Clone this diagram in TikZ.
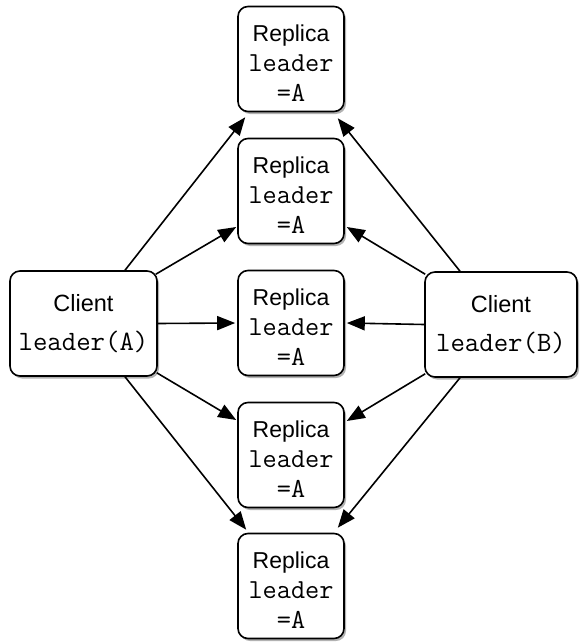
\documentclass[tikz,border=0pt]{standalone}
\usepackage{fontspec}
\setmainfont{Liberation Sans}
\usetikzlibrary{shadows,arrows.meta}

\newcommand{\monotext}{\ttfamily\fontsize{27.5}{30}\selectfont}
\newcommand{\monoclient}{\ttfamily\fontsize{28}{39}\selectfont}

\begin{document}
\begin{tikzpicture}[x=1pt,y=-1pt,
  box/.style={draw, line width=1.6pt, rounded corners=10pt, fill=white,
    align=center, inner sep=0pt,
    drop shadow={shadow xshift=2pt, shadow yshift=-2.5pt, opacity=0.3, fill=black}},
  replica/.style={box, minimum width=106pt, minimum height=105pt,
    font=\fontsize{23}{30}\selectfont},
  client/.style={box, minimum width=147pt, minimum height=105pt,
    font=\fontsize{23.5}{39}\selectfont},
  link/.style={line width=1.6pt, -{Triangle[length=18pt,width=14pt]}}]

\useasboundingbox (0,0) rectangle (579,642);

% clients
\node[client] (ca) at (83.5,323.5) {Client\\{\monoclient leader(A)}};
\node[client, minimum width=152pt] (cb) at (501,324.5) {Client\\{\monoclient leader(B)}};

% replicas (the strut on the first line lowers the text block a little)
\node[replica] (r1) at (291,59)  {\rule{0pt}{24pt}Replica\\{\monotext leader}\\{\monotext =A}};
\node[replica] (r2) at (291,191) {\rule{0pt}{24pt}Replica\\{\monotext leader}\\{\monotext =A}};
\node[replica] (r3) at (291,323) {\rule{0pt}{24pt}Replica\\{\monotext leader}\\{\monotext =A}};
\node[replica] (r4) at (291,455) {\rule{0pt}{24pt}Replica\\{\monotext leader}\\{\monotext =A}};
\node[replica] (r5) at (291,586) {\rule{0pt}{24pt}Replica\\{\monotext leader}\\{\monotext =A}};

% client A broadcasts
\draw[link] ([xshift=41.5pt]ca.north) -- ([xshift=8pt,yshift=-5pt]r1.south west);
\draw[link] ([xshift=-2pt,yshift=-4pt]ca.north east) -- ([xshift=-1pt,yshift=-36pt]r2.west);
\draw[link] (ca.east) -- ([xshift=-2pt]r3.west);
\draw[link] ([xshift=-1pt,yshift=4pt]ca.south east) -- ([xshift=-1pt,yshift=35pt]r4.west);
\draw[link] ([xshift=41.5pt]ca.south) -- ([xshift=9pt,yshift=3pt]r5.north west);

% client B broadcasts
\draw[link] ([xshift=-41pt]cb.north) -- ([xshift=-7pt,yshift=-6pt]r1.south east);
\draw[link] ([xshift=1pt,yshift=-3pt]cb.north west) -- ([xshift=2pt,yshift=-36pt]r2.east);
\draw[link] (cb.west) -- ([xshift=2pt]r3.east);
\draw[link] ([xshift=1pt,yshift=4pt]cb.south west) -- ([xshift=2pt,yshift=34pt]r4.east);
\draw[link] ([xshift=-41pt]cb.south) -- ([xshift=-7pt,yshift=5pt]r5.north east);

\end{tikzpicture}
\end{document}
